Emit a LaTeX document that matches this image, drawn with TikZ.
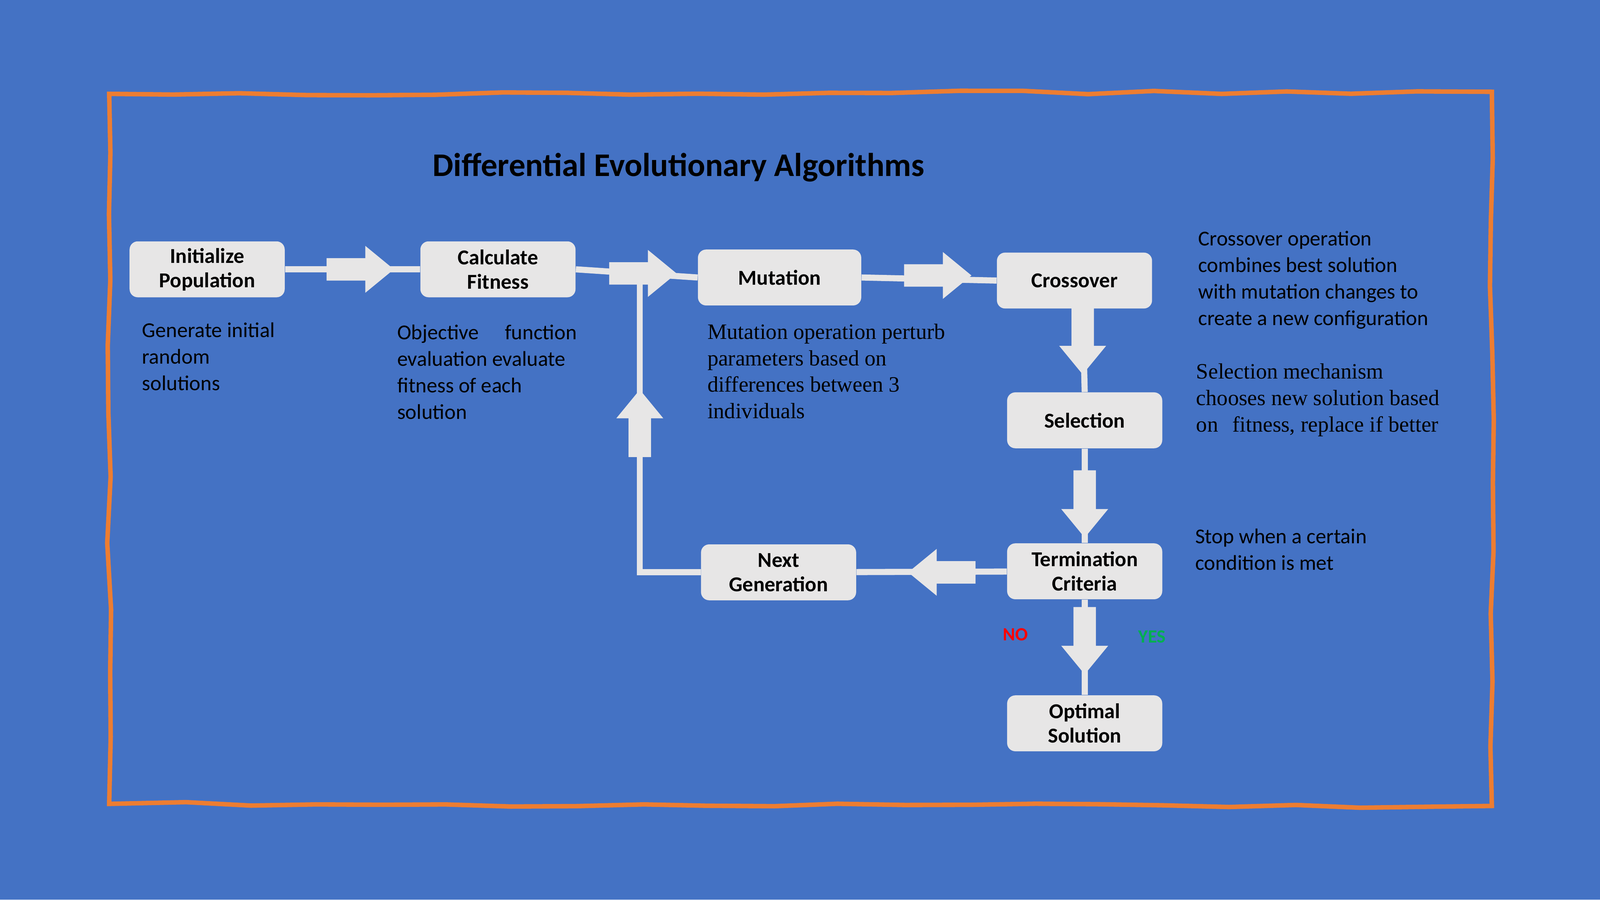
\documentclass[tikz,border=0pt]{standalone}
\usepackage{fontspec}
\setmainfont{Carlito}
\newfontfamily\serifx{Liberation Serif}
\usetikzlibrary{decorations.pathmorphing,backgrounds}
\definecolor{bg}{HTML}{4472C4}
\definecolor{frame}{HTML}{ED7D31}
\definecolor{boxc}{HTML}{E7E6E6}
\definecolor{yesc}{HTML}{00B050}
\tikzset{
 box/.style={fill=boxc,rounded corners=0.2cm,minimum width=3.8cm,minimum height=1.37cm,align=center,font=\fontsize{14.8}{17}\selectfont\bfseries,inner sep=0pt},
 link/.style={draw=boxc,line width=0.15cm},
 note/.style={anchor=north west,align=left,font=\fontsize{14.8}{18.5}\selectfont,inner sep=0pt,text=black},
 snote/.style={anchor=north west,align=left,font=\serifx\fontsize{15.3}{18.5}\selectfont,inner sep=0pt,text=black},
}
\newcommand{\blockarr}[3]{\fill[boxc,shift={(#1,#2)},rotate=#3] (-33,-11) -- (5,-11) -- (5,-23) -- (33,0) -- (5,23) -- (5,11) -- (-33,11) -- cycle;}
\begin{document}
\begin{tikzpicture}[x=0.025cm,y=-0.025cm]
\useasboundingbox (0,0) rectangle (1568,882);
\draw[frame,line width=0.11cm,decorate,decoration={random steps,segment length=1.6cm,amplitude=0.05cm}] (107,92) -- (1462,90) -- (1462,790) -- (107,788) -- cycle;
\node[font=\fontsize{23}{27}\selectfont\bfseries] (title) at (665,164) {Differential Evolutionary Algorithms};
\node[box] (init) at (203,264) {Initialize\\Population};
\node[box] (calc) at (488,264) {Calculate\\Fitness};
\node[box,minimum width=4cm] (mut) at (764,272) {Mutation};
\node[box] (cross) at (1053,275) {Crossover};
\node[box] (sel) at (1063,412) {Selection};
\node[box] (term) at (1063,560) {Termination\\Criteria};
\node[box] (next) at (763,561) {Next\\Generation};
\node[box] (opt) at (1063,709) {Optimal\\Solution};
\coordinate (j) at (627,268);
\coordinate (c) at (627,561);
\coordinate (ct) at (1061,302);
\begin{scope}[on background layer]
\fill[bg] (0,0) rectangle (1568,882);
\draw[link] (init) -- (calc);
\draw[link] (calc.east) -- (mut.west);
\draw[link] (mut.east) -- (cross.west);
\draw[link] (ct) -- (sel.north);
\draw[link] (sel) -- (term);
\draw[link] (term) -- (next);
\draw[link] (term) -- (opt);
\draw[link] (next.west) -- (c) -- (j);
\end{scope}
\blockarr{353}{264}{0}
\blockarr{630}{268}{0}
\blockarr{919}{270}{0}
\blockarr{1061}{334}{270}
\blockarr{1063}{494}{270}
\blockarr{923}{561}{180}
\blockarr{1063}{628}{270}
\blockarr{627}{415}{90}
\node[note] (n1) at (139,316) {Generate initial\\random\\solutions};
\node[note] (n2) at (389,318) {Objective\hspace{1em} function\\evaluation evaluate\\fitness of each\\solution};
\node[snote] (n3) at (693,317) {Mutation operation perturb\\parameters based on\\differences between 3\\individuals};
\node[note] (n4) at (1174,226) {Crossover operation\\combines best solution\\with mutation changes to\\create a new configuration};
\node[snote] (n5) at (1172,356) {Selection mechanism\\chooses new solution based\\on\hspace{0.4em} fitness, replace if better};
\node[note] (n6) at (1171,518) {Stop when a certain\\condition is met};
\node[text=red,font=\fontsize{13}{15}\selectfont\bfseries] (no) at (995,622) {NO};
\node[text=yesc,font=\fontsize{13}{15}\selectfont\bfseries] (yes) at (1129,624) {YES};
\end{tikzpicture}
\end{document}
